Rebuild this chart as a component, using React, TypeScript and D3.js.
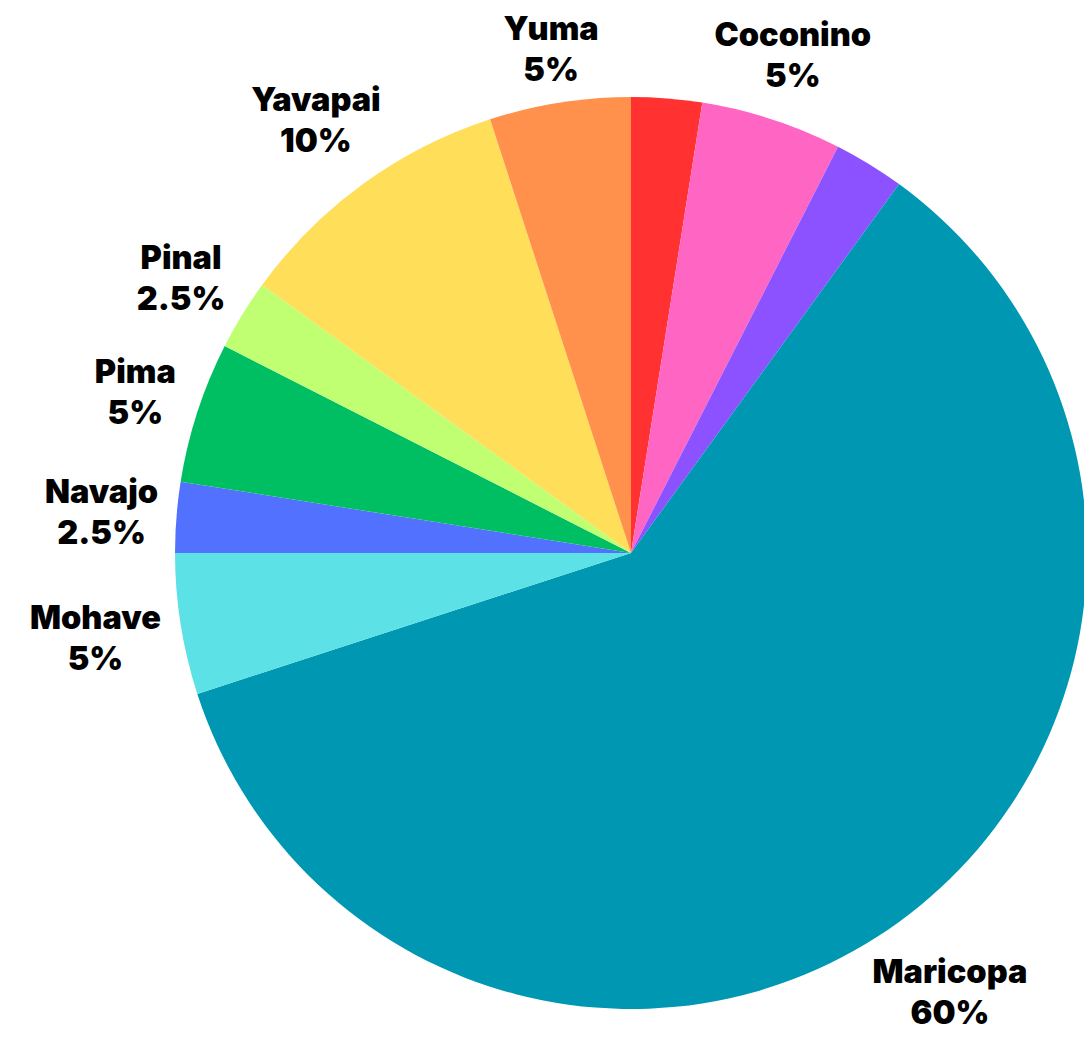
import { useEffect, useRef } from "react";
import * as d3 from "d3";

const counties = ["Cochise", "Coconino", "Gila", "Maricopa", "Mohave", "Navajo", "Pima", "Pinal", "Yavapai", "Yuma"];
const shares = [2.5, 5, 2.5, 60, 5, 2.5, 5, 2.5, 10, 5];
const shareLabels = ["2.5%", "5%", "2.5%", "60%", "5%", "2.5%", "5%", "2.5%", "10%", "5%"];
const labelled = [false, true, false, true, true, true, true, true, true, true];
const colors = ["#FF3131", "#FF66C4", "#8C52FF", "#0097B2", "#5CE1E6", "#5271FF", "#00BF63", "#C1FF72", "#FFDE59", "#FF914D"];

type Slice = { name: string; value: number; pct: string; show: boolean; color: string };

const data: Slice[] = counties.map((name, i) => ({
  name,
  value: shares[i],
  pct: shareLabels[i],
  show: labelled[i],
  color: colors[i],
}));

const FONT = "Inter, 'Noto Sans', sans-serif";
const FS = 32.5;
const LINE = 41;

export default function App() {
  const ref = useRef<SVGSVGElement>(null);

  useEffect(() => {
    if (!ref.current) return;
    const width = 1084;
    const height = 1037;
    const cx = 631;
    const cy = 553;
    const radius = 456;
    const labelGap = 473;

    const svg = d3.select(ref.current);
    svg.selectAll("*").remove();
    svg.attr("width", width).attr("height", height);

    const g = svg.append("g").attr("transform", `translate(${cx},${cy})`);

    const pie = d3
      .pie<Slice>()
      .sort(null)
      .value((d) => d.value);
    const arcs = pie(data);
    const arc = d3.arc<d3.PieArcDatum<Slice>>().innerRadius(0).outerRadius(radius);

    g.append("g")
      .selectAll("path")
      .data(arcs)
      .join("path")
      .attr("d", arc)
      .attr("fill", (d) => d.data.color);

    const cap = FS * 0.727;
    const boxH = cap + LINE;

    const labels = g
      .append("g")
      .selectAll("text")
      .data(arcs.filter((d) => d.data.show))
      .join("text")
      .attr("text-anchor", "middle")
      .attr("font-family", FONT)
      .attr("font-weight", 900)
      .attr("font-size", FS)
      .attr("fill", "#000");

    labels.append("tspan").attr("class", "l1").text((d) => d.data.name);
    labels.append("tspan").attr("class", "l2").text((d) => d.data.pct);

    // push each label box out along its slice's mid-angle until its nearest edge sits at labelGap
    labels.each(function (d) {
      const t = d3.select(this);
      const w1 = (t.select<SVGTSpanElement>(".l1").node() as SVGTSpanElement).getComputedTextLength();
      const w2 = (t.select<SVGTSpanElement>(".l2").node() as SVGTSpanElement).getComputedTextLength();
      const w = Math.max(w1, w2);
      const a = (d.startAngle + d.endAngle) / 2;
      const ux = Math.sin(a);
      const uy = -Math.cos(a);
      const dist = (k: number) => {
        const bx = Math.max(Math.abs(k * ux) - w / 2, 0);
        const by = Math.max(Math.abs(k * uy) - boxH / 2, 0);
        return Math.hypot(bx, by);
      };
      let lo = 0;
      let hi = 900;
      for (let i = 0; i < 50; i++) {
        const mid = (lo + hi) / 2;
        if (dist(mid) < labelGap) lo = mid;
        else hi = mid;
      }
      const px = lo * ux;
      const py = lo * uy;
      const top = py - boxH / 2;
      t.select(".l1").attr("x", px).attr("y", top + cap);
      t.select(".l2").attr("x", px).attr("y", top + cap + LINE);
    });
  }, []);

  return <svg ref={ref} style={{ position: "absolute", left: 0, top: 0 }} />;
}
